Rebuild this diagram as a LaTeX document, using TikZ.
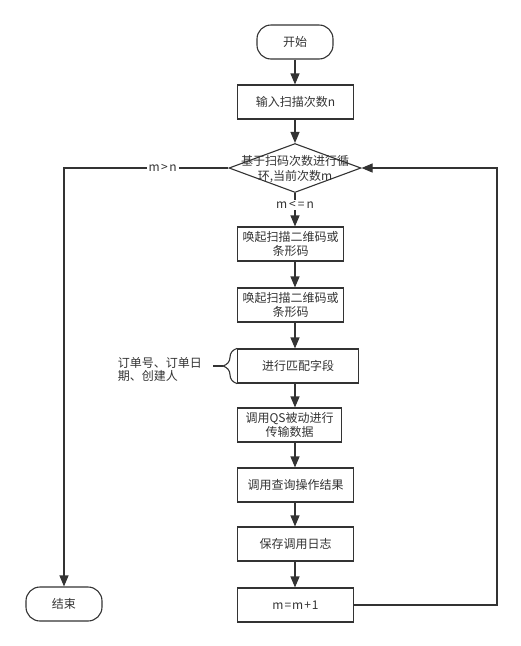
\documentclass[tikz,border=0pt]{standalone}
\usepackage{fontspec}
\setmainfont{Noto Sans CJK SC}
\usetikzlibrary{shapes.geometric,arrows.meta,decorations.pathreplacing}
\definecolor{linegray}{HTML}{333333}
\begin{document}
\begin{tikzpicture}[x=1pt,y=-1pt,font=\fontsize{12}{14}\selectfont,color=linegray,line width=1.1pt]
        \useasboundingbox (0,0) rectangle (521,646);
        \begin{scope}[every node/.style={draw,rounded corners=14pt,minimum width=76pt,minimum height=34pt}]
            \node (start) at (295,42)  {开始};
            \node (stop)  at (64,604)  {结束};
        \end{scope}
        \begin{scope}[every node/.style={draw,anchor=west,align=center,minimum height=34pt,inner xsep=3pt}]
            \node (in)    [minimum width=116pt] at (237,102) {输入扫描次数n};
            \node (wake1) [minimum width=106pt] at (237,244) {唤起扫描二维码或\\条形码};
            \node (wake2) [minimum width=106pt] at (237,305) {唤起扫描二维码或\\条形码};
            \node (match) [minimum width=121pt] at (237,366) {进行匹配字段};
            \node (qs)    [minimum width=104pt] at (237,425) {调用QS被动进行\\传输数据};
            \node (query) [minimum width=116pt] at (237,485) {调用查询操作结果};
            \node (save)  [minimum width=116pt] at (237,544) {保存调用日志};
            \node (inc)   [minimum width=116pt] at (237,605) {m\kern1pt=\kern1pt m\kern1pt+\kern1pt1};
        \end{scope}
        \node (loop) [draw,diamond,minimum width=132pt,minimum height=49pt,inner sep=0pt] at (295,168) {};
        \node (looptext) [align=center,font=\fontsize{12}{15}\selectfont] at (295,169) {基于扫码次数进行循\\环,当前次数m};
        \node (note) [anchor=west,align=left,font=\fontsize{12}{13}\selectfont] at (114,369) {订单号、订单日\\期、创建人};
        \coordinate (turn) at (497,168);
        \coordinate (bracetip) at (223,366);
        \coordinate (tail) at (213,366);
        \begin{scope}[every edge/.style={draw,-{Triangle[length=11pt,width=9pt]}}]
            \path
                (start) edge (start |- in.north)
                (in.south -| start) edge (loop)
                (loop) edge (start |- wake1.north)
                (wake1.south -| start) edge (start |- wake2.north)
                (wake2.south -| start) edge (start |- match.north)
                (match.south -| start) edge (start |- qs.north)
                (qs.south -| start) edge (start |- query.north)
                (query.south -| start) edge (start |- save.north)
                (save.south -| start) edge (start |- inc.north);
        \end{scope}
        \node (yes) [fill=white,inner sep=1pt] at (295,205) {m\kern2pt<\kern2pt=\kern2pt n};
        \draw[-{Triangle[length=11pt,width=9pt]}] (inc.east) -| (turn) -- (loop.east);
        \draw[-{Triangle[length=11pt,width=9pt]}] (loop.west) -| node[pos=0.2,fill=white,inner sep=2pt] {m\kern1.5pt>\kern1.5pt n} (stop.north);
        \draw[decorate,decoration={brace,amplitude=14pt}] (match.south west) -- (match.north west);
        \draw (bracetip) -- (tail);
    \end{tikzpicture}
\end{document}
